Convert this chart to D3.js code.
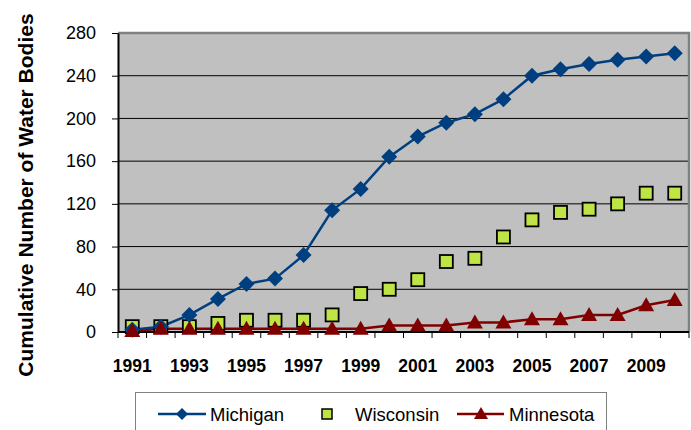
<!DOCTYPE html>
<html>
<head>
<meta charset="utf-8">
<script src="https://cdn.jsdelivr.net/npm/d3@7"></script>
<style>
  body { margin: 0; background: #fff; }
  text { font-family: Arial, "Liberation Sans", sans-serif; }
</style>
</head>
<body>
<div id="chart"></div>
<script>
// data
var years = [1991, 1992, 1993, 1994, 1995, 1996, 1997, 1998, 1999, 2000,
             2001, 2002, 2003, 2004, 2005, 2006, 2007, 2008, 2009, 2010];
var michigan  = [2, 5, 16, 31, 45, 50, 72, 114, 134, 164, 183, 196, 204, 218, 240, 246, 251, 255, 258, 261];
var wisconsin = [5, 5, 5, 8, 11, 11, 11, 16, 36, 40, 49, 66, 69, 89, 105, 112, 115, 120, 130, 130];
var minnesota = [1, 3, 3, 3, 3, 3, 3, 3, 3, 6, 6, 6, 9, 9, 12, 12, 16, 16, 25, 30];
var yTicks = [0, 40, 80, 120, 160, 200, 240, 280];
var xLabels = [1991, 1993, 1995, 1997, 1999, 2001, 2003, 2005, 2007, 2009];

var W = 691, H = 430;
var margin = {top: 33, right: 2, bottom: 98, left: 118};
var width = W - margin.left - margin.right,
    height = H - margin.top - margin.bottom;

var blue = "#003f7f", lime = "#bfe445", red = "#800000";

var svg = d3.select("#chart").append("svg")
    .attr("width", W)
    .attr("height", H);

var g = svg.append("g")
    .attr("transform", "translate(" + margin.left + "," + margin.top + ")");

var x = d3.scaleBand().domain(years).range([0, width]);
var y = d3.scaleLinear().domain([0, 280]).range([height, 0]);

// plot background
g.append("rect")
    .attr("width", width).attr("height", height)
    .attr("fill", "#c0c0c0");

// grid lines
g.append("g")
  .selectAll("line")
  .data(yTicks.filter(function(d) { return d > 0 && d < 280; }))
  .enter().append("line")
    .attr("x1", 0).attr("x2", width)
    .attr("y1", function(d) { return y(d); })
    .attr("y2", function(d) { return y(d); })
    .attr("stroke", "#000").attr("stroke-width", 1);

// top / right border
g.append("path")
    .attr("d", "M0,0H" + width + "V" + height)
    .attr("fill", "none")
    .attr("stroke", "#808080")
    .attr("stroke-width", 2.5);

// y axis
var yAxis = g.append("g")
    .call(d3.axisLeft(y).tickValues(yTicks).tickSize(6).tickPadding(16).tickSizeOuter(0));
yAxis.select(".domain").attr("stroke", "#000").attr("stroke-width", 2);
yAxis.selectAll(".tick line").attr("stroke", "#000");
yAxis.selectAll("text")
    .style("font-size", "18px")
    .attr("fill", "#000");

// x axis: ticks at category boundaries
var xg = g.append("g").attr("transform", "translate(0," + height + ")");
xg.append("line")
    .attr("x1", 0).attr("x2", width)
    .attr("stroke", "#000").attr("stroke-width", 2);
var bounds = years.map(function(d) { return x(d); }).concat([width]);
xg.selectAll(".bt")
  .data(bounds)
  .enter().append("line")
    .attr("x1", function(d) { return d; })
    .attr("x2", function(d) { return d; })
    .attr("y1", 0).attr("y2", 6)
    .attr("stroke", "#000");
xg.selectAll(".xl")
  .data(xLabels)
  .enter().append("text")
    .attr("x", function(d) { return x(d) + x.bandwidth() / 2; })
    .attr("y", 40)
    .attr("text-anchor", "middle")
    .style("font-size", "17.5px")
    .style("font-weight", "bold")
    .text(function(d) { return d; });

// y title
svg.append("text")
    .attr("transform", "translate(33," + 195 + ") rotate(-90)")
    .attr("text-anchor", "middle")
    .style("font-size", "21px")
    .style("font-weight", "bold")
    .text("Cumulative Number of Water Bodies");

var cx = function(i) { return x(years[i]) + x.bandwidth() / 2; };

var line = d3.line()
    .x(function(d, i) { return cx(i); })
    .y(function(d) { return y(d); });

// Minnesota line
g.append("path").datum(minnesota)
    .attr("fill", "none").attr("stroke", red).attr("stroke-width", 2.5)
    .attr("d", line);

// Michigan line
g.append("path").datum(michigan)
    .attr("fill", "none").attr("stroke", blue).attr("stroke-width", 2.5)
    .attr("d", line);

var diamond = "M0,-8L8,0L0,8L-8,0Z";
var triangle = "M0,-8L8,6L-8,6Z";

// Wisconsin squares
g.append("g").selectAll("rect")
  .data(wisconsin)
  .enter().append("rect")
    .attr("x", function(d, i) { return cx(i) - 6.5; })
    .attr("y", function(d) { return y(d) - 6.5; })
    .attr("width", 13).attr("height", 13)
    .attr("fill", lime).attr("stroke", "#000").attr("stroke-width", 1.8);

// Michigan diamonds
g.append("g").selectAll("path")
  .data(michigan)
  .enter().append("path")
    .attr("transform", function(d, i) { return "translate(" + cx(i) + "," + y(d) + ")"; })
    .attr("d", diamond)
    .attr("fill", blue);

// Minnesota triangles
g.append("g").selectAll("path")
  .data(minnesota)
  .enter().append("path")
    .attr("transform", function(d, i) { return "translate(" + cx(i) + "," + y(d) + ")"; })
    .attr("d", triangle)
    .attr("fill", red);

// legend
var lg = svg.append("g");
lg.append("rect")
    .attr("x", 135.5).attr("y", 392.5)
    .attr("width", 471).attr("height", 50)
    .attr("fill", "#fff").attr("stroke", "#808080");

var ly = 414;
lg.append("line").attr("x1", 158).attr("x2", 206).attr("y1", ly).attr("y2", ly)
    .attr("stroke", blue).attr("stroke-width", 2.5);
lg.append("path").attr("transform", "translate(182," + ly + ")")
    .attr("d", "M0,-6L6,0L0,6L-6,0Z").attr("fill", blue);
lg.append("text").attr("x", 210).attr("y", ly + 6.5).style("font-size", "18.5px").text("Michigan");

lg.append("rect").attr("x", 322).attr("y", ly - 5).attr("width", 10).attr("height", 10)
    .attr("fill", lime).attr("stroke", "#000").attr("stroke-width", 1.5);
lg.append("text").attr("x", 355).attr("y", ly + 6.5).style("font-size", "18.5px").text("Wisconsin");

lg.append("line").attr("x1", 457).attr("x2", 504).attr("y1", ly).attr("y2", ly)
    .attr("stroke", red).attr("stroke-width", 2.5);
lg.append("path").attr("transform", "translate(481," + ly + ")")
    .attr("d", "M0,-7L7,5L-7,5Z").attr("fill", red);
lg.append("text").attr("x", 509).attr("y", ly + 6.5).style("font-size", "18.5px").text("Minnesota");
</script>
</body>
</html>
